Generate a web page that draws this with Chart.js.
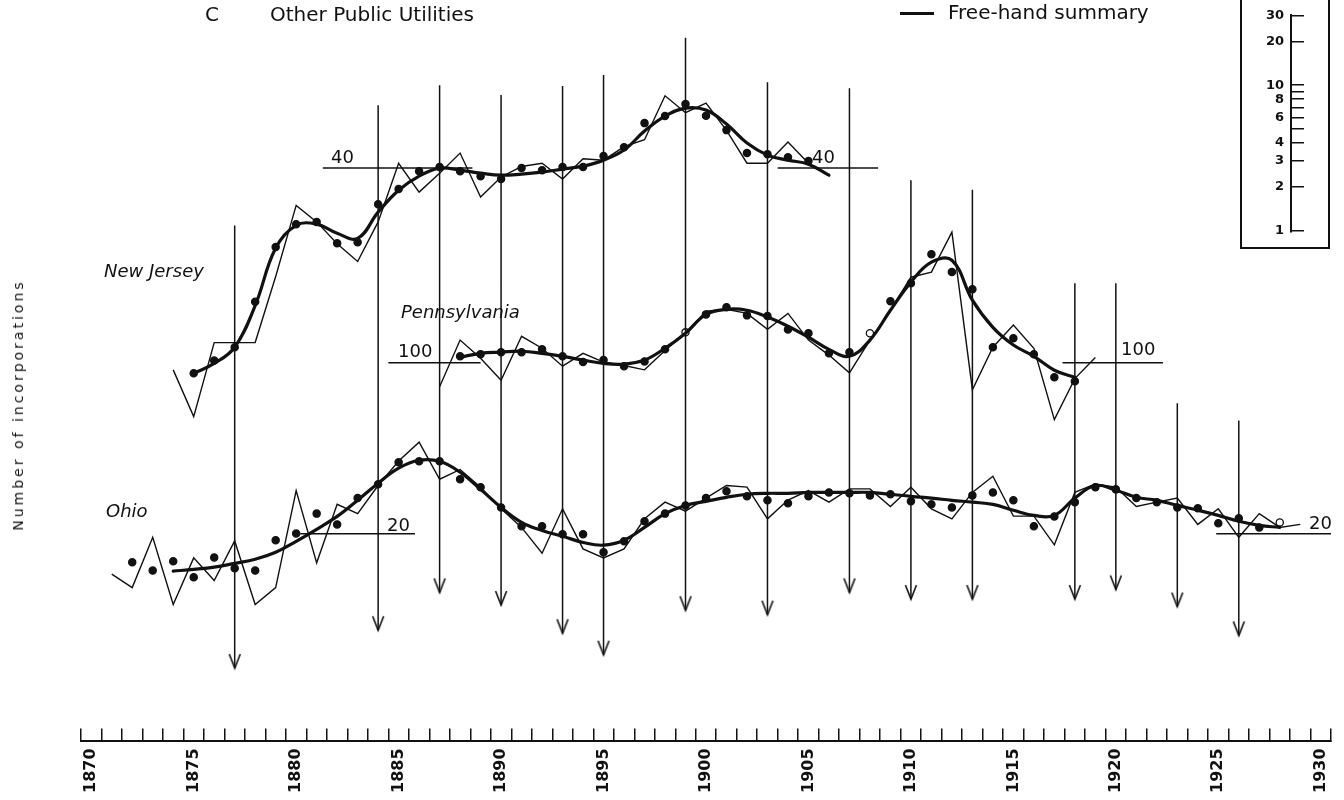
<!DOCTYPE html>
<html lang="en">
<head>
<meta charset="UTF-8">
<title>Other Public Utilities</title>
<script src="https://cdn.jsdelivr.net/npm/chart.js"></script>
<style>
  body { margin: 0; background: #fff; color: #111; font-family: "DejaVu Sans", sans-serif; }
  .page { position: relative; width: 1344px; height: 800px; overflow: hidden; background: #fff; }
  #main { position: absolute; left: 0; top: 0; }
  .txt { position: absolute; white-space: nowrap; line-height: 1; }
  .big { font-size: 20px; }
  .state { font-size: 18px; font-style: italic; }
  .ref { font-size: 18px; }
  .key-line { position: absolute; left: 900px; top: 12px; width: 34px; height: 3px; background: #111; }
  .ytitle { position: absolute; left: 18px; top: 405px; font-size: 14px; letter-spacing: 3px;
            white-space: nowrap; transform: translate(-50%, -50%) rotate(-90deg); }
  .inset { position: absolute; left: 1240px; top: 0; width: 86px; height: 247px;
           border: 2px solid #111; border-top: none; }
  .inset canvas { display: block; }
</style>
</head>
<body>
<div class="page">
  <canvas id="main" width="1344" height="800"></canvas>

  <div class="txt big" style="left:205px; top:4px;">C</div>
  <div class="txt big" style="left:270px; top:4px;">Other Public Utilities</div>
  <div class="key-line"></div>
  <div class="txt big" style="left:948px; top:2px;">Free-hand summary</div>

  <div class="ytitle">Number of incorporations</div>

  <div class="txt state" style="left:104px; top:262px;">New Jersey</div>
  <div class="txt state" style="left:401px; top:303px;">Pennsylvania</div>
  <div class="txt state" style="left:106px; top:502px;">Ohio</div>

  <div class="txt ref" style="left:331px; top:148px;">40</div>
  <div class="txt ref" style="left:812px; top:148px;">40</div>
  <div class="txt ref" style="left:398px; top:342px;">100</div>
  <div class="txt ref" style="left:1121px; top:340px;">100</div>
  <div class="txt ref" style="left:387px; top:516px;">20</div>
  <div class="txt ref" style="left:1309px; top:514px;">20</div>

  <div class="inset"><canvas id="scale" width="86" height="247"></canvas></div>
</div>

<script>
    const ink = '#111';

    // years on the axis, and the ones that get a label
    const firstYear = 1870, lastYear = 1930;
    const labelYears = [1870, 1875, 1880, 1885, 1890, 1895, 1900, 1905, 1910, 1915, 1920, 1925, 1930];

    // New Jersey: annual counts, 3-year averages, free-hand summary
    const njRawStart = 1874;
    const njRaw = [2, 1, 3, 3, 3, 8, 23, 18, 13, 10, 18, 43, 28, 37, 50, 26, 35, 41, 43, 34,
                   46, 45, 55, 61, 117, 91, 105, 70, 43, 43, 59, 43];
    const njAvgStart = 1875;
    const njAvg = [1.9, 2.3, 2.8, 5.5, 12.4, 17.4, 18, 13.1, 13.3, 23.4, 29.3, 38.2, 40.6, 38.2, 35.5,
                   34, 40, 38.8, 40.6, 40.6, 47.8, 54.6, 78, 86.6, 103.5, 87, 70.3, 50, 49.2, 47, 44.4];
    const njFitStart = 1875;
    const njFit = [1.9, 2.2, 2.8, 5.2, 12.2, 17.1, 17.4, 15.2, 14.1, 20.8, 28.8, 35.5, 40, 38.8, 37.1,
                   36, 36.6, 37.7, 39.4, 41.2, 45, 52.3, 69.3, 86.6, 97.5, 94.7, 76.9, 58, 48.5, 45, 42.4, 36];

    // Pennsylvania
    const paRawStart = 1887;
    const paRaw = [70, 140, 107, 77, 148, 124, 95, 115, 101, 96, 90, 120, 155, 215, 221, 208, 164,
                   208, 140, 112, 86, 140, 218, 356, 384, 695, 67, 126, 175, 124, 43, 79, 108];
    const paAvgStart = 1888;
    const paAvg = [110, 113.5, 117, 117, 122, 110, 101, 104, 95, 102, 122, 157, 205, 228, 202, 200,
                   164, 155, 115, 117, 155, 249, 326, 501, 384, 298, 126, 144, 113.5, 80.6, 76];
    const paOpen = [1899, 1908];
    const paFitStart = 1888;
    const paFit = [108.5, 115, 117, 118.6, 115, 110, 104, 99, 98, 104, 124, 155, 205, 221, 218, 197,
                   172, 146, 122, 110, 140, 218, 331, 445, 458, 253, 169, 130, 110, 89.5, 80.6];

    // Ohio
    const ohRawStart = 1871;
    const ohRaw = [11, 9, 19, 7, 14, 10, 18, 7, 9, 38, 13, 31, 27, 41, 59, 78, 45, 52, 40, 29,
                   22, 15, 29, 16, 14, 16, 25, 32, 28, 34, 41, 40, 25, 33, 38, 32, 39, 39, 30, 40,
                   29, 25, 37, 47, 26, 26, 17, 37, 42, 40, 30, 32, 34, 23, 29, 19, 27, 22, 23];
    const ohAvgStart = 1872;
    const ohAvg = [13.1, 11.6, 13.3, 10.5, 14.1, 12, 11.6, 18.2, 20.1, 27, 23, 34, 41.7, 57.8, 58.7,
                   58.7, 45, 40, 29.6, 22.4, 22.4, 19.9, 19.9, 15.2, 17.9, 24.1, 27, 30.5, 34, 37.6,
                   34.9, 32.9, 31.5, 34.9, 37, 36.5, 35.4, 36, 32.4, 31, 29.6, 35.4, 37, 32.9, 22.4,
                   25.9, 32, 40, 38.7, 34, 32, 29.6, 29.2, 23.4, 25.2, 22, 23.7];
    const ohOpen = [1928];
    const ohFitStart = 1874;
    const ohFit = [11.5, 11.8, 12.2, 12.9, 13.7, 15.2, 17.9, 21.4, 25.9, 32.9, 42.4, 53, 59.6, 58.7,
                   49.9, 38.7, 29.6, 23.7, 21, 19.3, 17.6, 16.9, 18.2, 22, 27, 30.5, 32.4, 34.4, 36,
                   36.5, 36.5, 37, 37, 37, 37, 36, 34.9, 34, 32.9, 32, 31, 28.4, 26.3, 26.3, 34,
                   41, 38.2, 34.4, 32.9, 30.5, 28.4, 26.3, 24.1, 22.7, 22];

    // reference-cycle arrows: year, top and tip (share of plot height)
    const turnYears  = [1877, 1884, 1887, 1890, 1893, 1895, 1899, 1903, 1907, 1910, 1913, 1918, 1920, 1923, 1926];
    const turnTop    = [69.6, 85.8, 88.5, 87.2, 88.4, 89.9, 94.9, 88.9, 88.1, 75.7, 74.4, 61.8, 61.8, 45.6, 43.3];
    const turnBottom = [9.9, 15.0, 20.1, 18.4, 14.6, 11.7, 17.7, 17.1, 20.1, 19.2, 19.2, 19.2, 20.5, 18.2, 14.3];

    // ratio scale inset
    const insetTicks = [1, 2, 3, 4, 5, 6, 7, 8, 9, 10, 20, 30];
    const insetLabels = [1, 2, 3, 4, 6, 8, 10, 20, 30];

    // ---- layout of the ratio axes (each state has its own offset) ----
    const PX_PER_DECADE = 155;
    const AREA_HEIGHT = 741;
    function ratioAxis(ref, refFromTop) {
        const max = ref * Math.pow(10, refFromTop / PX_PER_DECADE);
        return { type: 'logarithmic', display: false, max: max,
                 min: max / Math.pow(10, AREA_HEIGHT / PX_PER_DECADE) };
    }

    function series(start, values) {
        return values.map((v, i) => ({ x: start + i, y: v }));
    }

    function rawLine(start, values, axis) {
        return { data: series(start, values), yAxisID: axis, borderColor: ink, borderWidth: 1.4,
                 pointRadius: 0, tension: 0 };
    }
    function fitLine(start, values, axis) {
        return { data: series(start, values), yAxisID: axis, borderColor: ink, borderWidth: 3.2,
                 pointRadius: 0, tension: 0.4, borderCapStyle: 'round' };
    }
    function dots(start, values, open, axis) {
        const pts = series(start, values);
        return { data: pts, yAxisID: axis, showLine: false, pointRadius: 3.6, pointBorderWidth: 1.3,
                 pointBorderColor: ink,
                 pointBackgroundColor: pts.map(p => open.includes(p.x) ? '#fff' : ink) };
    }
    function refLine(axis, value, from, to) {
        return { data: [{ x: from, y: value }, { x: to, y: value }], yAxisID: axis,
                 borderColor: ink, borderWidth: 1.5, pointRadius: 0, tension: 0 };
    }

    // arrow head drawn as a point style, tip in the centre
    const head = document.createElement('canvas');
    head.width = 14; head.height = 30;
    const hc = head.getContext('2d');
    hc.strokeStyle = ink; hc.lineWidth = 1.6;
    hc.beginPath(); hc.moveTo(1.5, 1); hc.lineTo(7, 15); hc.lineTo(12.5, 1); hc.stroke();

    const arrowData = [];
    turnYears.forEach((yr, i) => {
        arrowData.push({ x: yr, y: turnTop[i] }, { x: yr, y: turnBottom[i], tip: true }, { x: yr, y: null });
    });

    const datasets = [
        { data: arrowData, yAxisID: 'yMark', borderColor: ink, borderWidth: 1.5, tension: 0,
          spanGaps: false, pointStyle: head,
          pointRadius: ctx => (ctx.raw && ctx.raw.tip ? 7 : 0) },

        refLine('yNJ', 40, 1881.3, 1888.6), refLine('yNJ', 40, 1903.5, 1908.4),
        refLine('yPA', 100, 1884.5, 1889.0), refLine('yPA', 100, 1917.4, 1922.3),
        refLine('yOH', 20, 1880.2, 1885.8), refLine('yOH', 20, 1924.9, 1930.5),

        rawLine(njRawStart, njRaw, 'yNJ'), fitLine(njFitStart, njFit, 'yNJ'), dots(njAvgStart, njAvg, [], 'yNJ'),
        rawLine(paRawStart, paRaw, 'yPA'), fitLine(paFitStart, paFit, 'yPA'), dots(paAvgStart, paAvg, paOpen, 'yPA'),
        rawLine(ohRawStart, ohRaw, 'yOH'), fitLine(ohFitStart, ohFit, 'yOH'), dots(ohAvgStart, ohAvg, ohOpen, 'yOH')
    ];

    const yearTicks = [];
    for (let y = firstYear; y <= lastYear; y++) yearTicks.push({ value: y });

    new Chart(document.getElementById('main'), {
        type: 'line',
        data: { datasets: datasets },
        options: {
            responsive: false,
            animation: false,
            events: [],
            layout: { autoPadding: false, padding: { left: 81, right: 13, top: 0, bottom: -13 } },
            plugins: { legend: { display: false }, tooltip: { enabled: false } },
            scales: {
                x: {
                    type: 'linear', position: 'bottom', min: firstYear - 0.5, max: lastYear + 0.5,
                    afterBuildTicks: s => { s.ticks = yearTicks.map(t => ({ value: t.value })); },
                    afterFit: s => { s.paddingLeft = 0; s.paddingRight = 0; },
                    ticks: {
                        autoSkip: false, minRotation: 90, maxRotation: 90, padding: 20, color: ink,
                        font: { family: 'DejaVu Sans', size: 16, weight: 'bold' },
                        callback: v => (labelYears.includes(Math.round(v)) ? String(Math.round(v)) : '')
                    },
                    grid: { offset: true, drawOnChartArea: false, tickLength: -13, color: ink, lineWidth: 1.5 },
                    border: { color: ink, width: 2 }
                },
                yNJ: ratioAxis(40, 168),
                yPA: ratioAxis(100, 362.5),
                yOH: ratioAxis(20, 533.5),
                yMark: { type: 'linear', display: false, min: 0, max: 100 }
            }
        }
    });

    // the small ratio-scale key in the corner
    new Chart(document.getElementById('scale'), {
        type: 'line',
        data: { datasets: [] },
        options: {
            responsive: false,
            animation: false,
            events: [],
            layout: { autoPadding: false, padding: { left: 0, right: 24, top: 0, bottom: 12 } },
            plugins: { legend: { display: false }, tooltip: { enabled: false } },
            scales: {
                x: { display: false },
                y: {
                    type: 'logarithmic', position: 'left', min: 0.971, max: 30.5,
                    afterFit: s => { s.width = 49; },
                    afterBuildTicks: s => { s.ticks = insetTicks.map(v => ({ value: v })); },
                    ticks: {
                        autoSkip: false, padding: 7, color: ink,
                        font: { family: 'DejaVu Sans', size: 13, weight: 'bold' },
                        callback: v => (insetLabels.includes(v) ? String(v) : '')
                    },
                    grid: { drawTicks: false, color: ink, lineWidth: 1.5 },
                    border: { color: ink, width: 2 }
                }
            }
        }
    });
</script>
</body>
</html>
